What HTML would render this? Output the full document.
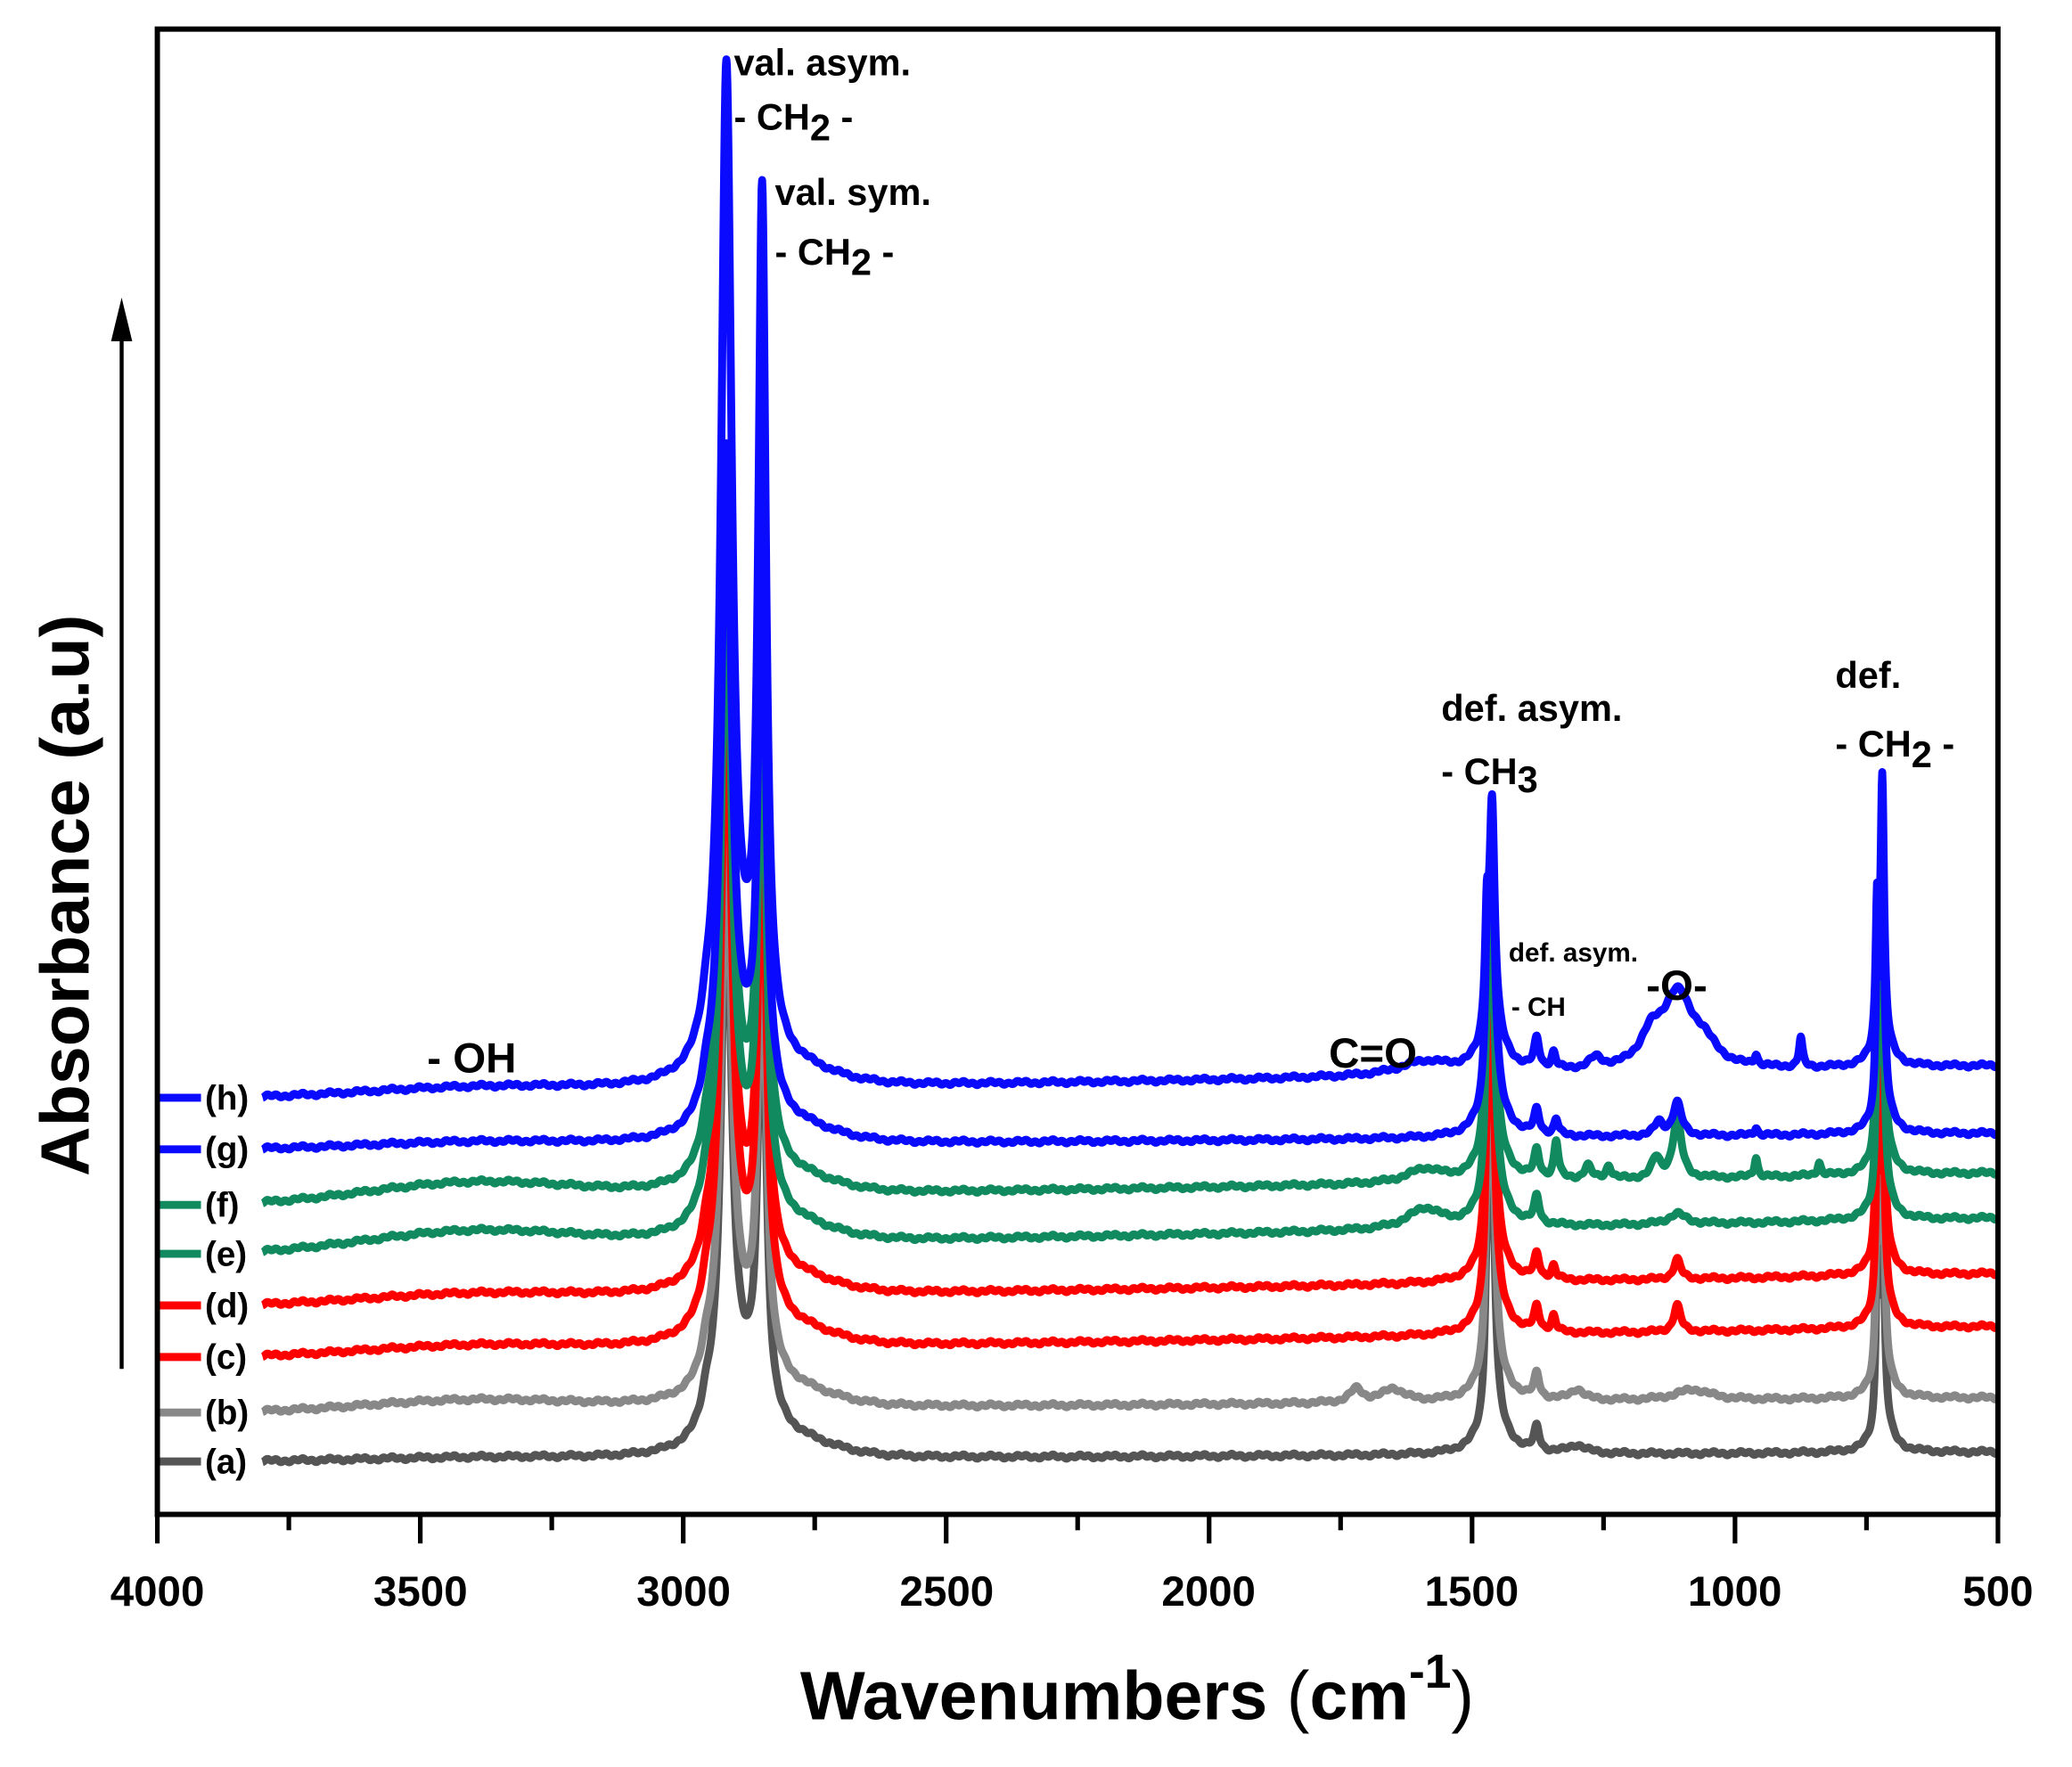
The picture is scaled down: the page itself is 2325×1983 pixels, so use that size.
<!DOCTYPE html>
<html><head><meta charset="utf-8"><style>
html,body{margin:0;padding:0;background:#fff;}
svg{display:block;}
text{font-family:"Liberation Sans",Arial,sans-serif;font-weight:bold;fill:#000;}
</style></head><body>
<svg id="s" width="2325" height="1983" viewBox="0 0 1567 1336" preserveAspectRatio="none" xmlns="http://www.w3.org/2000/svg">
<rect x="0" y="0" width="1567" height="1336" fill="#fff"/>
<g id="series"></g>
<rect x="119" y="22" width="1392" height="1123" fill="none" stroke="#000" stroke-width="4"/>
<g id="ticks" stroke="#000" stroke-width="3.5"></g>
<g font-size="32" text-anchor="middle">
<text x="119" y="1214">4000</text><text x="318" y="1214">3500</text><text x="517" y="1214">3000</text>
<text x="716" y="1214">2500</text><text x="914" y="1214">2000</text><text x="1113" y="1214">1500</text>
<text x="1312" y="1214">1000</text><text x="1511" y="1214">500</text>
</g>
<text x="860" y="1300" font-size="52" text-anchor="middle">Wavenumbers <tspan font-weight="normal">(</tspan>cm<tspan dy="-24" font-size="36">-1</tspan><tspan dy="24" font-weight="normal">)</tspan></text>
<text transform="translate(67,677) rotate(-90)" font-size="52" text-anchor="middle">Absorbance (a.u)</text>
<line x1="92" y1="1035" x2="92" y2="250" stroke="#000" stroke-width="3"/>
<polygon points="92,225 84,258 100,258" fill="#000"/>
<g font-size="28">
<text x="555" y="57">val. asym.</text>
<text x="555" y="98">- CH<tspan dy="8">2</tspan><tspan dy="-8"> -</tspan></text>
<text x="586" y="155">val. sym.</text>
<text x="586" y="200">- CH<tspan dy="8">2</tspan><tspan dy="-8"> -</tspan></text>
<text x="1090" y="545">def. asym.</text>
<text x="1090" y="593">- CH<tspan dy="6">3</tspan></text>
<text x="1388" y="520">def.</text>
<text x="1388" y="572">- CH<tspan dy="8">2</tspan><tspan dy="-8"> -</tspan></text>
</g>
<text x="1141" y="727" font-size="20">def. asym.</text>
<text x="1143" y="768" font-size="20">- CH</text>
<text x="1245" y="756" font-size="32">-O-</text>
<text x="1005" y="807" font-size="32">C=O</text>
<text x="323" y="811" font-size="32">- OH</text>
<g id="leg" font-size="26"></g>
</svg>
<script>
var NS="http://www.w3.org/2000/svg";
function X(w){return 119+(4000-w)/3500*1392;}
var tk=document.getElementById('ticks');
for(var w=4000;w>=500;w-=250){var l=document.createElementNS(NS,'line');var maj=(w%500==0);
l.setAttribute('x1',X(w));l.setAttribute('x2',X(w));l.setAttribute('y1',1145);l.setAttribute('y2',maj?1167:1157);tk.appendChild(l);}
function L(w,w0,a,g){var d=(w-w0)/g;return a/(1+d*d);}
function G(w,w0,a,s){var d=(w-w0)/s;return a*Math.exp(-d*d/2);}
var S=[
 {n:'a',c:'#555555',y0:1105,y1:1098,A1:400,A2:370,A3:210,A4:210,oh:2,ex:[[1377,18,6],[1300,6,20]]},
 {n:'b',c:'#888888',y0:1068,y1:1057,A1:400,A2:370,A3:210,A4:210,oh:8,ex:[[1377,18,6],[1720,10,15],[1650,10,25],[1080,8,40],[1300,8,15]]},
 {n:'c',c:'#ff0000',y0:1026,y1:1003,A1:480,A2:420,A3:210,A4:210,oh:6,ex:[[1377,18,6],[1345,12,5],[1110,20,8]]},
 {n:'d',c:'#ff0000',y0:987,y1:963,A1:460,A2:400,A3:210,A4:210,oh:6,ex:[[1377,18,6],[1345,10,5],[1110,15,8]]},
 {n:'e',c:'#128a60',y0:948,y1:921,A1:480,A2:420,A3:210,A4:210,oh:14,ex:[[1377,20,6],[1590,15,40],[1110,8,20]]},
 {n:'f',c:'#128a60',y0:911,y1:887,A1:470,A2:420,A3:210,A4:210,oh:14,ex:[[1377,20,6],[1340,28,5],[1280,10,8],[1240,10,6],[1110,45,10],[1150,15,10],[960,15,4],[840,10,4],[1590,10,40]]},
 {n:'g',c:'#0a0aff',y0:869,y1:857,A1:490,A2:440,A3:210,A4:210,oh:4,ex:[[1377,18,6],[1340,12,5],[1110,25,10],[1145,10,10],[960,6,4]]},
 {n:'h',c:'#0a0aff',y0:830,y1:806,A1:735,A2:635,A3:174,A4:195,oh:5,ex:[[1377,22,6],[1345,12,5],[1110,55,35],[1160,20,25],[1060,15,30],[1590,10,60],[875,22,4],[960,8,4],[1265,8,15]]}
];
var g=document.getElementById('series'),lg=document.getElementById('leg');
S.forEach(function(s){
 var d='';var wS=3800;
 for(var w=wS;w>=500;w-=1){
  var t=(wS-w)/(wS-500);var y=s.y0+(s.y1-s.y0)*t;
  var up=G(w,3400,s.oh,200)+L(w,2918,s.A1,12)+L(w,2850,s.A2,8.5)+L(w,2955,18,12)+L(w,2890,40,45)+G(w,2800,10,80)
   +L(w,1462,s.A3,6)+L(w,1472,s.A3*0.45,4)+L(w,1460,25,30)+L(w,720,s.A4,4)+L(w,730,s.A4*0.5,3)+L(w,720,20,20);
  s.ex.forEach(function(e){up+=L(w,e[0],e[1],e[2]);});
  up+=Math.sin(w*0.37)*0.8+Math.sin(w*0.11)*0.8;
  d+=(w==wS?'M':'L')+X(w).toFixed(2)+' '+(y-up).toFixed(2);
 }
 var p=document.createElementNS(NS,'path');p.setAttribute('d',d);p.setAttribute('fill','none');
 p.setAttribute('stroke',s.c);p.setAttribute('stroke-width','6');p.setAttribute('stroke-linejoin','round');g.appendChild(p);
 var l=document.createElementNS(NS,'line');l.setAttribute('x1',119);l.setAttribute('x2',152);l.setAttribute('y1',s.y0);l.setAttribute('y2',s.y0);
 l.setAttribute('stroke',s.c);l.setAttribute('stroke-width','6');g.appendChild(l);
 var tx=document.createElementNS(NS,'text');tx.setAttribute('x',155);tx.setAttribute('y',s.y0+9);tx.textContent='('+s.n+')';lg.appendChild(tx);
});
</script>
</body></html>
